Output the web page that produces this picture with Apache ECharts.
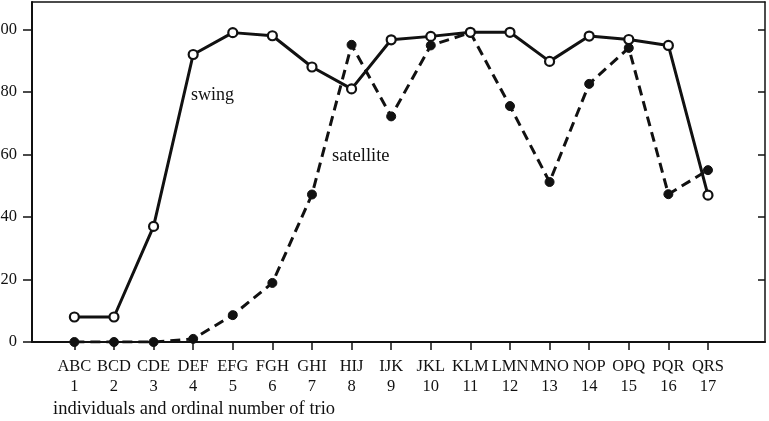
<!DOCTYPE html>
<html>
<head>
<meta charset="utf-8">
<script src="https://cdn.jsdelivr.net/npm/echarts@6/dist/echarts.min.js"></script>
<style>html,body{margin:0;padding:0;background:#fff}#c{width:769px;height:421px}</style>
</head>
<body>
<div id="c"></div>
<script>
const trioNames = ['ABC','BCD','CDE','DEF','EFG','FGH','GHI','HIJ','IJK','JKL','KLM','LMN','MNO','NOP','OPQ','PQR','QRS'];
const trioNumbers = [1,2,3,4,5,6,7,8,9,10,11,12,13,14,15,16,17];
const swing = [8, 8, 37, 92, 99, 98, 88, 81, 96.7, 97.8, 99.1, 99.1, 89.8, 97.9, 96.8, 94.9, 47];
const satellite = [0, 0, 0, 1, 8.6, 18.9, 47.2, 95.1, 72.2, 94.9, 99, 75.5, 51.2, 82.6, 94.1, 47.3, 55];
const yTicks = [0, 20, 40, 60, 80, 100];

const font = 'Liberation Serif, Times New Roman, serif';
const ink = '#111';
const chart = echarts.init(document.getElementById('c'), null, {renderer: 'canvas'});
chart.setOption({
  animation: false,
  backgroundColor: '#fff',
  grid: {left: 32, right: 4, top: 2, bottom: 79, show: false, outerBoundsMode: 'none', containLabel: false},
  xAxis: [{
    type: 'value', min: -0.07, max: 18.44, position: 'bottom',
    axisLine: {show: true, onZero: false, lineStyle: {color: ink, width: 2}},
    axisTick: {show: true, length: 8, inside: false, customValues: trioNumbers, lineStyle: {color: ink, width: 1.5}},
    axisLabel: {
      customValues: trioNumbers, margin: 15,
      formatter: v => trioNames[trioNumbers.indexOf(v)] + '\n' + v,
      fontFamily: font, fontSize: 16.5, color: ink, lineHeight: 20
    },
    splitLine: {show: false}
  }, {
    type: 'value', min: -0.07, max: 18.44, position: 'top',
    axisLine: {show: true, onZero: false, lineStyle: {color: ink, width: 1.5}},
    axisTick: {show: false}, axisLabel: {show: false}, splitLine: {show: false}
  }],
  yAxis: [{
    type: 'value', min: 0, max: 108.8, position: 'left',
    axisLine: {show: true, onZero: false, lineStyle: {color: ink, width: 2}},
    axisTick: {show: true, length: 9, customValues: yTicks, lineStyle: {color: ink, width: 1.5}},
    axisLabel: {customValues: yTicks, margin: 15, fontFamily: font, fontSize: 16.5, color: ink},
    splitLine: {show: false}
  }, {
    type: 'value', min: 0, max: 108.8, position: 'right',
    axisLine: {show: true, onZero: false, lineStyle: {color: ink, width: 1.5}},
    axisTick: {show: true, inside: true, length: 7, customValues: yTicks.slice(1), lineStyle: {color: ink, width: 1.5}},
    axisLabel: {show: false},
    splitLine: {show: false}
  }],
  graphic: [
    {type: 'text', left: 191, top: 86, style: {text: 'swing', fontFamily: font, fontSize: 18, fill: ink}},
    {type: 'text', left: 332, top: 147, style: {text: 'satellite', fontFamily: font, fontSize: 18.5, fill: ink}},
    {type: 'text', left: 53, top: 400, style: {text: 'individuals and ordinal number of trio', fontFamily: font, fontSize: 18.5, fill: ink}}
  ],
  series: [{
    name: 'satellite', type: 'line',
    data: trioNumbers.map((n, i) => [n, satellite[i]]),
    symbol: 'circle', symbolSize: 9,
    itemStyle: {color: ink, borderColor: ink, borderWidth: 1},
    lineStyle: {color: ink, width: 3, type: [10, 6]},
    z: 2
  }, {
    name: 'swing', type: 'line',
    data: trioNumbers.map((n, i) => [n, swing[i]]),
    symbol: 'circle', symbolSize: 9,
    itemStyle: {color: '#fff', borderColor: ink, borderWidth: 2.2},
    lineStyle: {color: ink, width: 3},
    z: 3
  }]
});
</script>
</body>
</html>
